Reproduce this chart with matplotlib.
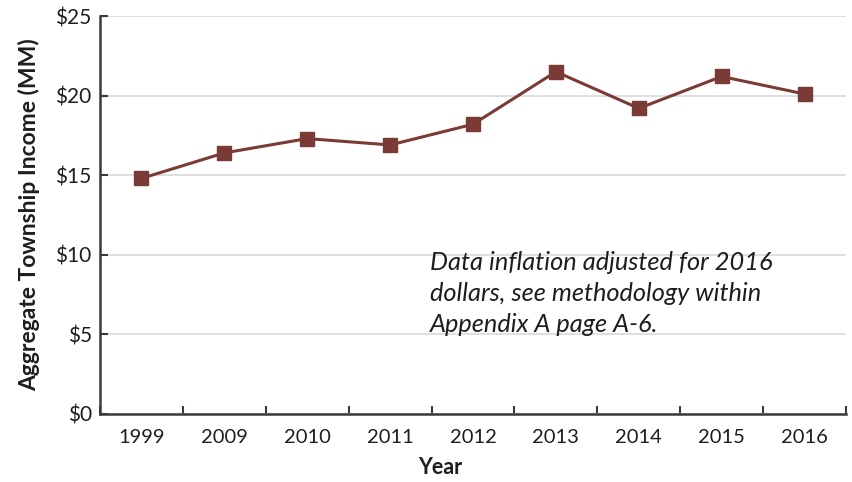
import numpy as np
import matplotlib
matplotlib.use('Agg')
from matplotlib import pyplot as plt
from matplotlib.ticker import FuncFormatter

years = ['1999', '2009', '2010', '2011', '2012', '2013', '2014', '2015', '2016']
income = [14.8, 16.4, 17.3, 16.9, 18.2, 21.5, 19.2, 21.2, 20.1]

LINE_COLOR = '#7a3a36'
AXIS_COLOR = '#3a3a3a'

plt.rcParams['font.family'] = ['Lato', 'DejaVu Sans']

fig = plt.figure(figsize=(8.52, 4.82), dpi=100)
axes = fig.add_axes([0.1174, 0.1411, 0.8756, 0.8257])

x = np.arange(len(years)) + 0.5
axes.plot(x, income, color=LINE_COLOR, lw=2.2, marker='s', ms=10,
          mfc=LINE_COLOR, mec=LINE_COLOR, zorder=3)

axes.set_xlim(0, len(years))
axes.set_ylim(0, 25)
axes.set_yticks(range(0, 26, 5))
axes.yaxis.set_major_formatter(FuncFormatter(lambda v, _: '${:d}'.format(int(v))))

# category axis: ticks sit between the years, labels in the middle
axes.set_xticks(range(len(years) + 1))
axes.set_xticklabels([])
axes.set_xticks(x, minor=True)
axes.set_xticklabels(years, minor=True)
axes.tick_params(axis='x', which='minor', length=0, pad=11, labelsize=14.5,
                 labelcolor='#1e1e1e')
axes.tick_params(axis='x', which='major', direction='in', length=6,
                 width=1.5, color=AXIS_COLOR)
axes.tick_params(axis='y', direction='in', length=6, width=1.5,
                 color=AXIS_COLOR, labelsize=15, labelcolor='#1e1e1e', pad=6)

axes.grid(axis='y', color='#d9d9d9', lw=1.2)
axes.set_axisbelow(True)
for side in ['top', 'right']:
    axes.spines[side].set_visible(False)
for side in ['left', 'bottom']:
    axes.spines[side].set_color(AXIS_COLOR)
    axes.spines[side].set_linewidth(1.8)

axes.text(0.442, 0.41,
          'Data inflation adjusted for 2016\ndollars, see methodology within\n'
          'Appendix A page A-6.',
          transform=axes.transAxes, ha='left', va='top', fontsize=18.3,
          style='italic', color='#1e1e1e', linespacing=1.42)

fig.text(440 / 852, 1 - 467 / 482, 'Year', ha='center', va='center',
         fontsize=15.5, fontweight='bold', color='#1e1e1e')
fig.text(29 / 852, 1 - 215 / 482, 'Aggregate Township Income (MM)',
         ha='center', va='center', rotation=90, fontsize=16.5,
         fontweight='bold', color='#1e1e1e')

fig.savefig('out.png', dpi=100)
plt.close(fig)
